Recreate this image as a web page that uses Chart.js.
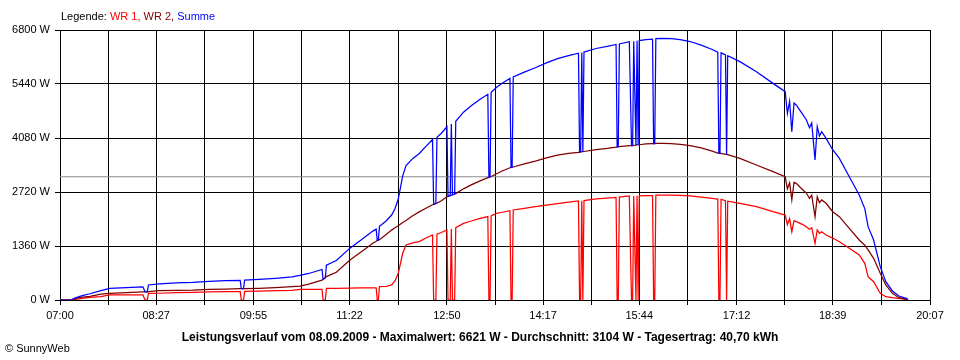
<!DOCTYPE html>
<html>
<head>
<meta charset="utf-8">
<script src="https://cdn.jsdelivr.net/npm/chart.js@4.4.0/dist/chart.umd.min.js"></script>
<style>
    body { margin: 0; background: #fff; }
    #wrap { position: relative; width: 960px; height: 360px; font-family: "Liberation Sans", Arial, sans-serif; }
    #chart { position: absolute; left: 0; top: 0; }
    .txt { position: absolute; font-size: 11px; line-height: 13px; color: #000; white-space: nowrap; }
    #legend { left: 61px; top: 10px; }
    #summary { left: 0; width: 960px; top: 330px; text-align: center; font-weight: bold; font-size: 12px; line-height: 14px; }
    #copy { left: 5px; top: 342px; }
    .wr1 { color: #ff0000; }
    .wr2 { color: #800000; }
    .sum { color: #0000ff; }
</style>
</head>
<body>
<div id="wrap">
    <canvas id="chart" width="960" height="360"></canvas>
    <div class="txt" id="legend">Legende: <span class="wr1">WR 1,</span> <span class="wr2">WR 2,</span> <span class="sum">Summe</span></div>
    <div class="txt" id="summary">Leistungsverlauf vom 08.09.2009 - Maximalwert: 6621 W - Durchschnitt: 3104 W - Tagesertrag: 40,70 kWh</div>
    <div class="txt" id="copy">&copy; SunnyWeb</div>
</div>
<script>
// ===========================
// Data
// ===========================

const times = [
    '07:00', '07:10', '07:14', '07:20', '07:27', '07:37', '07:45', '08:00', '08:15', '08:17',
    '08:19', '08:20', '08:30', '08:45', '09:00', '09:15', '09:30', '09:43', '09:44', '09:46',
    '09:47', '10:00', '10:15', '10:30', '10:37', '10:45', '10:57', '10:58', '11:00', '11:01',
    '11:10', '11:22', '11:32', '11:43', '11:46', '11:47', '11:48', '11:49', '11:55', '12:00',
    '12:03', '12:06', '12:10', '12:13', '12:19', '12:25', '12:31', '12:37', '12:38', '12:40',
    '12:41', '12:45', '12:50', '12:51', '12:53', '12:54', '12:55', '12:57', '12:58', '13:05',
    '13:12', '13:20', '13:27', '13:28', '13:29', '13:30', '13:35', '13:40', '13:47', '13:48',
    '13:49', '13:50', '14:00', '14:10', '14:20', '14:30', '14:40', '14:49', '14:50', '14:51',
    '14:52', '14:53', '14:54', '15:05', '15:15', '15:23', '15:24', '15:25', '15:26', '15:35',
    '15:37', '15:38', '15:39', '15:41', '15:42', '15:43', '15:44', '15:50', '15:56', '15:57',
    '15:58', '15:59', '16:05', '16:13', '16:21', '16:30', '16:40', '16:50', '16:55', '16:56',
    '16:57', '16:58', '17:02', '17:03', '17:04', '17:15', '17:30', '17:45', '17:56', '17:58',
    '18:00', '18:02', '18:04', '18:06', '18:12', '18:15', '18:18', '18:20', '18:23', '18:25',
    '18:27', '18:29', '18:33', '18:39', '18:45', '18:54', '19:03', '19:08', '19:11', '19:16',
    '19:22', '19:27', '19:33', '19:39', '19:46', '19:47'
];

const wr1 = [
    0, 0, 15, 40, 67, 84, 126, 126, 126, 0,
    0, 168, 170, 185, 195, 205, 210, 210, 0, 0,
    215, 225, 235, 245, 268, 268, 268, 0, 0, 290,
    295, 300, 305, 305, 305, 0, 0, 335, 340, 380,
    480, 672, 1176, 1385, 1440, 1469, 1560, 1640, 0, 0,
    1660, 1700, 1763, 0, 0, 1790, 0, 0, 1820, 1930,
    1990, 2057, 2100, 0, 0, 2120, 2180, 2210, 2250, 0,
    0, 2267, 2310, 2350, 2392, 2430, 2465, 2495, 0, 0,
    2500, 0, 2505, 2544, 2565, 2585, 0, 0, 2590, 2620,
    0, 0, 2620, 0, 2625, 0, 2625, 2627, 2630, 0,
    0, 2640, 2644, 2640, 2636, 2620, 2590, 2560, 2540, 0,
    0, 2535, 2500, 0, 2490, 2435, 2350, 2224, 2140, 1900,
    2050, 1720, 2000, 1973, 1900, 1846, 1780, 1820, 1428, 1763,
    1680, 1720, 1637, 1560, 1469, 1301, 1133, 923, 587, 461,
    168, 84, 60, 42, 17, 0
];

const wr2 = [
    0, 0, 40, 70, 90, 150, 165, 185, 205, 205,
    205, 210, 235, 245, 250, 265, 277, 285, 285, 285,
    285, 294, 310, 335, 350, 400, 500, 520, 560, 590,
    700, 1000, 1200, 1430, 1480, 1500, 1510, 1520, 1650, 1760,
    1820, 1870, 1950, 2000, 2120, 2220, 2310, 2400, 2410, 2430,
    2440, 2500, 2600, 2610, 2630, 2640, 2650, 2670, 2680, 2800,
    2900, 3000, 3080, 3090, 3100, 3110, 3180, 3250, 3330, 3340,
    3345, 3350, 3430, 3500, 3580, 3650, 3690, 3720, 3725, 3730,
    3735, 3735, 3740, 3790, 3820, 3850, 3855, 3860, 3860, 3885,
    3890, 3890, 3895, 3900, 3905, 3905, 3910, 3930, 3940, 3940,
    3940, 3945, 3945, 3940, 3920, 3890, 3830, 3750, 3700, 3700,
    3690, 3690, 3670, 3665, 3660, 3568, 3400, 3232, 3106, 2800,
    2950, 2520, 2960, 2938, 2770, 2700, 2560, 2640, 2098, 2602,
    2450, 2520, 2435, 2224, 2098, 1805, 1511, 1380, 1260, 1050,
    672, 378, 168, 59, 17, 0
];

const summe = [
    0, 0, 55, 110, 157, 234, 291, 311, 331, 205,
    205, 378, 405, 430, 445, 470, 487, 495, 285, 285,
    500, 519, 545, 580, 618, 668, 768, 520, 560, 880,
    995, 1300, 1505, 1735, 1785, 1500, 1510, 1855, 1990, 2140,
    2300, 2542, 3126, 3385, 3560, 3689, 3870, 4040, 2410, 2430,
    4100, 4200, 4363, 2610, 2630, 4430, 2650, 2670, 4500, 4730,
    4890, 5057, 5180, 3090, 3100, 5230, 5360, 5460, 5580, 3340,
    3345, 5617, 5740, 5850, 5972, 6080, 6155, 6215, 3725, 3730,
    6235, 3735, 6245, 6334, 6385, 6435, 3855, 3860, 6450, 6505,
    3890, 3890, 6515, 3900, 6530, 3905, 6535, 6557, 6570, 3940,
    3940, 6585, 6589, 6580, 6556, 6510, 6420, 6310, 6240, 3700,
    3690, 6225, 6170, 3665, 6150, 6003, 5750, 5456, 5246, 4700,
    5000, 4240, 4960, 4911, 4670, 4546, 4340, 4460, 3526, 4365,
    4130, 4240, 4072, 3784, 3567, 3106, 2644, 2303, 1847, 1511,
    840, 462, 228, 101, 34, 0
];

const xTickLabels = ['07:00', '08:27', '09:55', '11:22', '12:50', '14:17', '15:44', '17:12', '18:39', '20:07'];
const yTickValues = [0, 1360, 2720, 4080, 5440, 6800];
const avgValue = 3104;

// ===========================
// Helpers
// ===========================

const dayStart = xTickLabels[0];

function toMin(s) {
    const p = s.split(':');
    const base = dayStart.split(':');
    return (+p[0] * 60 + +p[1]) - (+base[0] * 60 + +base[1]);
}

function series(values) {
    return times.map((t, i) => ({ x: toMin(t), y: values[i] }));
}

const xLabelMins = xTickLabels.map(toMin);
const xGridMins = [];
xLabelMins.forEach((m, i) => {
    xGridMins.push(m);
    if (i < xLabelMins.length - 1) xGridMins.push((m + xLabelMins[i + 1]) / 2);
});
const xMax = xLabelMins[xLabelMins.length - 1];

// ===========================
// Chart
// ===========================

const tickFont = { family: '"Liberation Sans", Arial, sans-serif', size: 11 };

new Chart(document.getElementById('chart'), {
    type: 'line',
    data: {
        datasets: [
            {
                label: 'Summe',
                data: series(summe),
                borderColor: '#0000ff',
                borderWidth: 1.25,
                order: 0
            },
            {
                label: 'WR 2',
                data: series(wr2),
                borderColor: '#800000',
                borderWidth: 1.25,
                order: 1
            },
            {
                label: 'WR 1',
                data: series(wr1),
                borderColor: '#ff0000',
                borderWidth: 1.25,
                order: 2
            },
            {
                label: 'Durchschnitt',
                data: [{ x: 0, y: avgValue }, { x: xMax, y: avgValue }],
                borderColor: '#8c8c8c',
                borderWidth: 1,
                order: 3
            }
        ]
    },
    options: {
        responsive: false,
        animation: false,
        events: [],
        elements: {
            point: { radius: 0 },
            line: { tension: 0, fill: false }
        },
        layout: {
            padding: { top: 30, right: 30, left: 0, bottom: 0 }
        },
        plugins: {
            legend: { display: false },
            tooltip: { enabled: false }
        },
        scales: {
            x: {
                type: 'linear',
                min: 0,
                max: xMax,
                afterBuildTicks: function(scale) {
                    scale.ticks = xGridMins.map(v => ({ value: v }));
                },
                afterFit: function(scale) {
                    scale.height = 60;
                },
                ticks: {
                    autoSkip: false,
                    maxRotation: 0,
                    padding: 4,
                    color: '#000',
                    font: tickFont,
                    callback: function(value, index) {
                        return index % 2 === 0 ? xTickLabels[index / 2] : '';
                    }
                },
                grid: {
                    color: '#000',
                    lineWidth: 1,
                    tickLength: 5
                },
                border: { color: '#000' }
            },
            y: {
                min: 0,
                max: yTickValues[yTickValues.length - 1],
                afterBuildTicks: function(scale) {
                    scale.ticks = yTickValues.map(v => ({ value: v }));
                },
                afterFit: function(scale) {
                    scale.width = 60;
                },
                ticks: {
                    padding: 5,
                    color: '#000',
                    font: tickFont,
                    callback: function(value) {
                        return value + ' W';
                    }
                },
                grid: {
                    color: '#000',
                    lineWidth: 1,
                    tickLength: 5
                },
                border: { color: '#000' }
            }
        }
    }
});
</script>
</body>
</html>
